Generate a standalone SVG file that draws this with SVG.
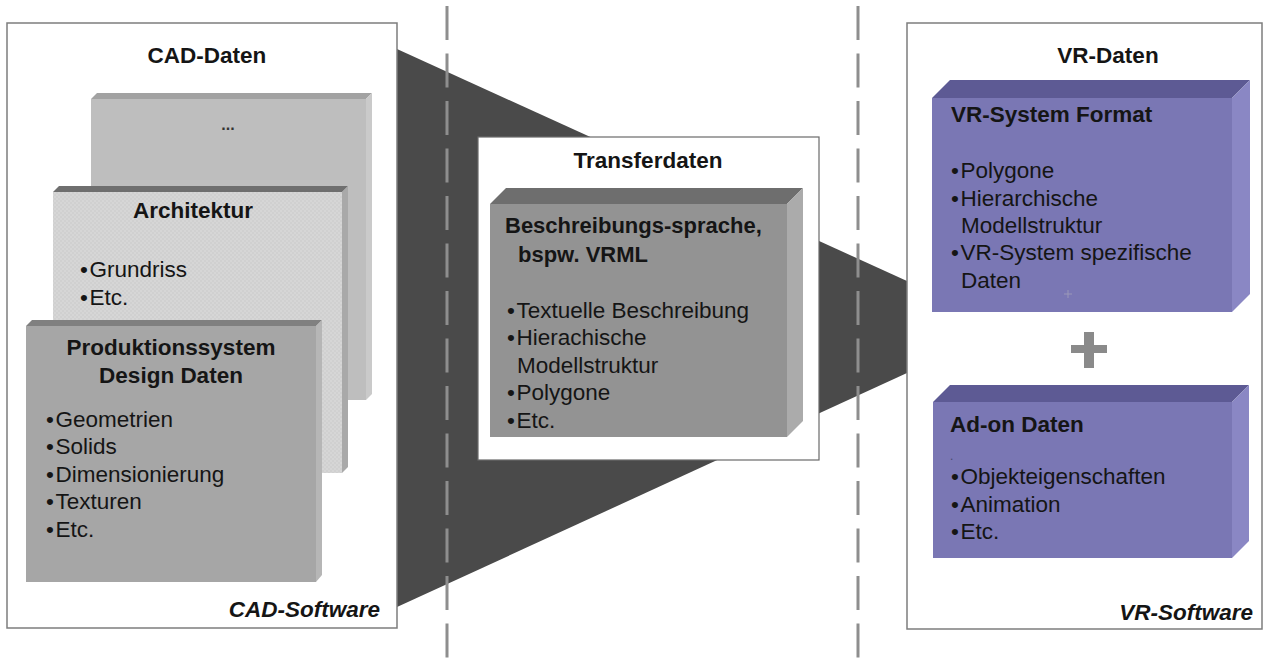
<svg xmlns="http://www.w3.org/2000/svg" width="1266" height="664" viewBox="0 0 1266 664">
  <defs>
    <pattern id="weave" width="4" height="4" patternUnits="userSpaceOnUse">
      <rect width="4" height="4" fill="#d6d6d6"/>
      <rect width="2" height="2" fill="#d0d0d0"/>
      <rect x="2" y="2" width="2" height="2" fill="#d0d0d0"/>
    </pattern>
  </defs>
  <style>
    text { font-family: "Liberation Sans", Arial, Helvetica, sans-serif; font-size: 22.5px; fill: #151515; }
    .b { font-weight: bold; }
    .bi { font-weight: bold; font-style: italic; }
    .mid { text-anchor: middle; }
    .panel { fill: #ffffff; stroke: #7d7d7d; stroke-width: 1.5; }
    .tbox { fill: #ffffff; stroke: #6a6a6a; stroke-width: 1.2; }
    .divider { stroke: #8e8e8e; stroke-width: 3; stroke-dasharray: 34 13.5; fill: none; }
    .funnel { fill: #4a4a4a; }
  </style>

  <rect width="1266" height="664" fill="#ffffff"/>

  <!-- data flow funnel from CAD side to VR side -->
  <g id="connectors">
    <polygon class="funnel" points="397,49 907,281 907,373 397,607"/>
  </g>

  <!-- CAD software panel -->
  <g id="panel-cad">
    <rect class="panel" x="7" y="23" width="390" height="605"/>
    <text class="b mid" x="207" y="63">CAD-Daten</text>
    <text class="bi" x="380" y="617" text-anchor="end">CAD-Software</text>
  </g>

  <!-- back card: further data -->
  <g id="card-misc">
    <polygon points="91,99 97,93 372,93 366,99" fill="#a2a2a2"/>
    <rect x="91" y="99" width="275" height="301" fill="#bebebe"/>
    <polygon points="366,99 372,93 372,394 366,400" fill="#cacaca"/>
    <text class="b mid" x="228" y="130" style="font-size:16px;fill:#333">...</text>
  </g>

  <!-- middle card: architecture -->
  <g id="card-arch">
    <polygon points="53,192 59,186 348,186 342,192" fill="#6f6f6f"/>
    <rect x="53" y="192" width="289" height="281" fill="url(#weave)"/>
    <polygon points="342,192 348,186 348,467 342,473" fill="#a9a9a9"/>
    <text class="b mid" x="193" y="218">Architektur</text>
    <text x="80" y="277">•<tspan dx="1.5">Grundriss</tspan></text>
    <text x="80" y="305">•<tspan dx="1.5">Etc.</tspan></text>
  </g>

  <!-- front card: production system design data -->
  <g id="card-prod">
    <polygon points="26,326 32,320 322,320 316,326" fill="#808080"/>
    <rect x="26" y="326" width="290" height="256" fill="#a6a6a6"/>
    <polygon points="316,326 322,320 322,575 316,582" fill="#b6b6b6"/>
    <text class="b mid" x="171" y="355">Produktionssystem</text>
    <text class="b mid" x="171" y="383">Design Daten</text>
    <text x="46" y="427">•<tspan dx="1.5">Geometrien</tspan></text>
    <text x="46" y="454">•<tspan dx="1.5">Solids</tspan></text>
    <text x="46" y="482">•<tspan dx="1.5">Dimensionierung</tspan></text>
    <text x="46" y="509">•<tspan dx="1.5">Texturen</tspan></text>
    <text x="46" y="537">•<tspan dx="1.5">Etc.</tspan></text>
  </g>

  <!-- phase dividers -->
  <g id="dividers">
    <line class="divider" x1="447" y1="6" x2="447" y2="658"/>
    <line class="divider" x1="858" y1="6" x2="858" y2="658"/>
  </g>

  <!-- transfer data -->
  <g id="transfer">
    <rect class="tbox" x="478" y="137" width="341" height="323"/>
    <text class="b mid" x="648" y="168">Transferdaten</text>
    <polygon points="490,204 506,188 803,188 787,204" fill="#6e6e6e"/>
    <rect x="490" y="204" width="297" height="233" fill="#939393"/>
    <polygon points="787,204 803,188 803,421 787,437" fill="#ababab"/>
    <text class="b" x="505" y="233" style="font-size:22px">Beschreibungs-sprache,</text>
    <text class="b" x="518" y="262" style="font-size:22px">bspw. VRML</text>
    <text x="507" y="318">•<tspan dx="1.5">Textuelle Beschreibung</tspan></text>
    <text x="507" y="345">•<tspan dx="1.5">Hierachische</tspan></text>
    <text x="517" y="373">Modellstruktur</text>
    <text x="507" y="400">•<tspan dx="1.5">Polygone</tspan></text>
    <text x="507" y="428">•<tspan dx="1.5">Etc.</tspan></text>
  </g>

  <!-- VR software panel -->
  <g id="panel-vr">
    <rect class="panel" x="907" y="23" width="355" height="606"/>
    <text class="b mid" x="1108" y="63">VR-Daten</text>
    <text class="bi" x="1253" y="620" text-anchor="end">VR-Software</text>
  </g>

  <!-- VR system format block -->
  <g id="box-vr-format">
    <polygon points="932,98 950,80 1250,80 1232,98" fill="#5d5a94"/>
    <rect x="932" y="98" width="300" height="214" fill="#7a77b4"/>
    <polygon points="1232,98 1250,80 1250,294 1232,312" fill="#8a87c4"/>
    <text class="b" x="951" y="122">VR-System Format</text>
    <text x="951" y="178">•<tspan dx="1.5">Polygone</tspan></text>
    <text x="951" y="206">•<tspan dx="1.5">Hierarchische</tspan></text>
    <text x="961" y="233">Modellstruktur</text>
    <text x="951" y="260">•<tspan dx="1.5">VR-System spezifische</tspan></text>
    <text x="961" y="288">Daten</text>
    <path d="M1064,294 h8 M1068,290 v8" stroke="#9a98b8" stroke-width="1"/>
  </g>

  <!-- combination sign -->
  <g id="plus">
    <rect x="1071" y="345" width="36" height="8" fill="#8a8a8a"/>
    <rect x="1084" y="332" width="10" height="36" fill="#8a8a8a"/>
  </g>

  <!-- add-on data block -->
  <g id="box-addon">
    <polygon points="933,402 950,385 1249,385 1232,402" fill="#5d5a94"/>
    <rect x="933" y="402" width="299" height="156" fill="#7a77b4"/>
    <polygon points="1232,402 1249,385 1249,541 1232,558" fill="#8a87c4"/>
    <text class="b" x="950" y="432">Ad-on Daten</text>
    <text x="950" y="460" style="font-size:12px;fill:#4a4a6a">.</text>
    <text x="951" y="484">•<tspan dx="1.5">Objekteigenschaften</tspan></text>
    <text x="951" y="512">•<tspan dx="1.5">Animation</tspan></text>
    <text x="951" y="539">•<tspan dx="1.5">Etc.</tspan></text>
  </g>
</svg>
